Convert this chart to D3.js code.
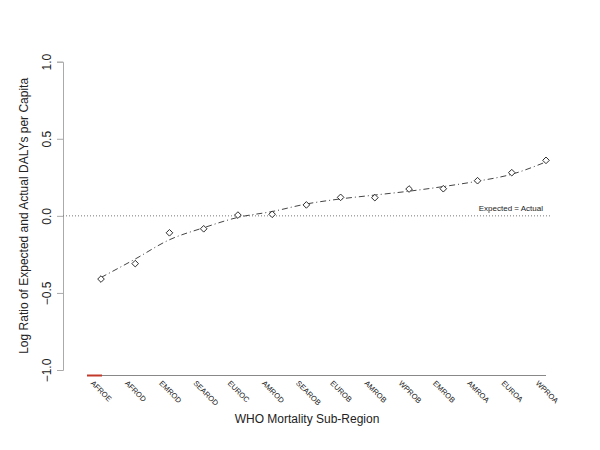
<!DOCTYPE html>
<html>
<head>
<meta charset="utf-8">
<script src="https://cdn.jsdelivr.net/npm/d3@7"></script>
<style>
  body { margin: 0; background: #fff; }
  svg { display: block; font-family: "Liberation Sans", Arial, sans-serif; }
</style>
</head>
<body>
<div id="app"></div>
<script>
const regions = ['AFROE', 'AFROD', 'EMROD', 'SEAROD', 'EUROC', 'AMROD', 'SEAROB',
  'EUROB', 'AMROB', 'WPROB', 'EMROB', 'AMROA', 'EUROA', 'WPROA'];
const logRatio = [-0.41, -0.31, -0.11, -0.084, 0.005, 0.01, 0.071,
  0.12, 0.118, 0.174, 0.176, 0.228, 0.28, 0.36];
const smoothed = [-0.40, -0.28, -0.155, -0.077, -0.01, 0.028, 0.077,
  0.11, 0.135, 0.16, 0.19, 0.225, 0.27, 0.35];
const yTicks = [-1.0, -0.5, 0.0, 0.5, 1.0];

const render = () => {
  const width = 600;
  const height = 450;

  const svg = d3.select('#app').append('svg')
    .attr('width', width)
    .attr('height', height);

  const x = d3.scalePoint()
    .domain(regions)
    .range([101, 546]);

  const y = d3.scaleLinear()
    .domain([-1, 1])
    .range([370, 61.7]);

  // 1. y axis
  const yAxis = d3.axisLeft(y)
    .tickValues(yTicks)
    .tickFormat(d3.format('.1f'))
    .tickSize(6)
    .tickPadding(4);

  const gy = svg.append('g')
    .attr('transform', 'translate(63,0)')
    .call(yAxis);
  gy.select('.domain').attr('stroke', '#aaa');
  gy.selectAll('.tick line').attr('stroke', '#aaa');
  gy.selectAll('.tick text')
    .attr('font-size', 12)
    .attr('fill', '#222')
    .attr('transform', 'rotate(-90, -16, 0)')
    .attr('x', -16)
    .attr('dy', 0)
    .attr('text-anchor', 'middle')
    .attr('dominant-baseline', 'central');

  svg.append('text')
    .attr('transform', `translate(24, ${y(0)}) rotate(-90)`)
    .attr('text-anchor', 'middle')
    .attr('dominant-baseline', 'central')
    .attr('font-size', 12)
    .attr('fill', '#222')
    .text('Log Ratio of Expected and Actual DALYs per Capita');

  // 2. x axis line with red start marker
  svg.append('line')
    .attr('x1', 87).attr('x2', x(regions[regions.length - 1]))
    .attr('y1', 375.5).attr('y2', 375.5)
    .attr('stroke', '#888');
  svg.append('line')
    .attr('x1', 87).attr('x2', x(regions[0]) + 1)
    .attr('y1', 375.5).attr('y2', 375.5)
    .attr('stroke', '#c0392b')
    .attr('stroke-width', 2);

  svg.append('g')
    .selectAll('text')
    .data(regions)
    .enter()
      .append('text')
      .attr('transform', d => `translate(${x(d) - 9}, 382) rotate(45)`)
      .attr('font-size', 7.5)
      .attr('fill', '#222')
      .attr('dominant-baseline', 'central')
      .text(d => d);

  svg.append('text')
    .attr('x', 307)
    .attr('y', 419)
    .attr('text-anchor', 'middle')
    .attr('dominant-baseline', 'central')
    .attr('font-size', 12)
    .attr('fill', '#222')
    .text('WHO Mortality Sub-Region');

  // 3. reference line y = 0
  svg.append('line')
    .attr('x1', 63).attr('x2', 551)
    .attr('y1', y(0)).attr('y2', y(0))
    .attr('stroke', '#777')
    .attr('stroke-dasharray', '1,2');

  svg.append('text')
    .attr('x', 543)
    .attr('y', 211)
    .attr('text-anchor', 'end')
    .attr('font-size', 8)
    .attr('fill', '#222')
    .text('Expected = Actual');

  // 4. smoothed fit
  const line = d3.line()
    .x((d, i) => x(regions[i]))
    .y(d => y(d))
    .curve(d3.curveMonotoneX);

  svg.append('path')
    .datum(smoothed)
    .attr('d', line)
    .attr('fill', 'none')
    .attr('stroke', '#444')
    .attr('stroke-dasharray', '6,3,1,3');

  // 5. points (diamonds)
  svg.append('g')
    .selectAll('path')
    .data(logRatio)
    .enter()
      .append('path')
      .attr('d', d3.symbol().type(d3.symbolSquare).size(22))
      .attr('transform', (d, i) => `translate(${x(regions[i])}, ${y(d)}) rotate(45)`)
      .attr('fill', '#fff')
      .attr('stroke', '#222')
      .attr('stroke-width', 0.9);
};

document.addEventListener('DOMContentLoaded', render);
</script>
</body>
</html>
